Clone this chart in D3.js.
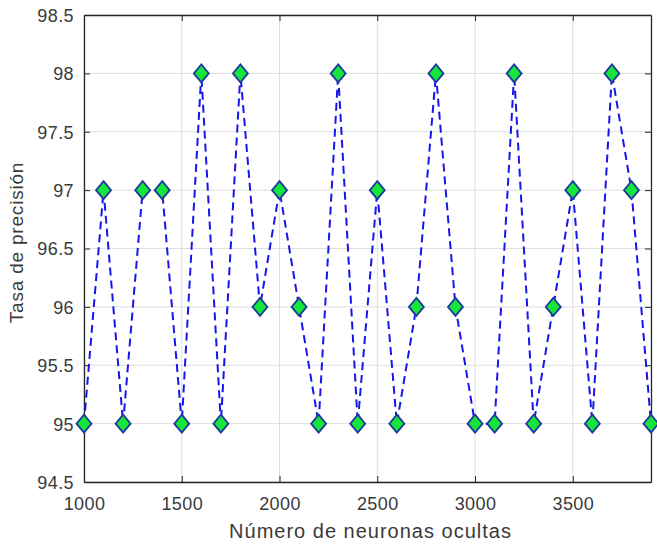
<!DOCTYPE html>
<html>
<head>
<meta charset="utf-8">
<script src="https://cdn.jsdelivr.net/npm/d3@7"></script>
<style>
  body { margin: 0; background: #fff; }
  svg { display: block; }
</style>
</head>
<body>
<div id="chart"></div>
<script>
// neuronas ocultas vs tasa de precision
var neurons = [1000, 1100, 1200, 1300, 1400, 1500, 1600, 1700, 1800, 1900,
               2000, 2100, 2200, 2300, 2400, 2500, 2600, 2700, 2800, 2900,
               3000, 3100, 3200, 3300, 3400, 3500, 3600, 3700, 3800, 3900];
var accuracy = [95, 97, 95, 97, 97, 95, 98, 95, 98, 96,
                97, 96, 95, 98, 95, 97, 95, 96, 98, 96,
                95, 95, 98, 95, 96, 97, 95, 98, 97, 95];
var xTicks = [1000, 1500, 2000, 2500, 3000, 3500];
var yTicks = [94.5, 95, 95.5, 96, 96.5, 97, 97.5, 98, 98.5];

var W = 657, H = 545;
var margin = {left: 84, top: 15, right: 6, bottom: 63};
var iw = W - margin.left - margin.right;
var ih = H - margin.top - margin.bottom;
var font = '"Liberation Sans", Arial, Helvetica, sans-serif';
var axisColor = '#262626';

var svg = d3.select('#chart').append('svg')
  .attr('width', W)
  .attr('height', H);

var x = d3.scaleLinear().domain([1000, 3900]).range([0, iw]);
var y = d3.scaleLinear().domain([94.5, 98.5]).range([ih, 0]);

var g = svg.append('g')
  .attr('transform', 'translate(' + margin.left + ',' + margin.top + ')');

// grid
g.append('g').selectAll('line')
  .data(xTicks)
  .enter().append('line')
  .attr('x1', d => x(d)).attr('x2', d => x(d))
  .attr('y1', 0).attr('y2', ih)
  .attr('stroke', '#dedede').attr('stroke-width', 1);

g.append('g').selectAll('line')
  .data(yTicks)
  .enter().append('line')
  .attr('x1', 0).attr('x2', iw)
  .attr('y1', d => y(d)).attr('y2', d => y(d))
  .attr('stroke', '#dedede').attr('stroke-width', 1);

// axes (ticks point inward, like matlab)
var xAxis = g.append('g')
  .attr('transform', 'translate(0,' + ih + ')')
  .call(d3.axisBottom(x).tickValues(xTicks).tickSizeInner(-6).tickSizeOuter(0).tickPadding(15)
    .tickFormat(d3.format('d')));
var yAxis = g.append('g')
  .call(d3.axisLeft(y).tickValues(yTicks).tickSizeInner(-6).tickSizeOuter(0).tickPadding(10)
    .tickFormat(d3.format('')));
var xTop = g.append('g')
  .call(d3.axisTop(x).tickValues(xTicks).tickSizeInner(-6).tickSizeOuter(0).tickFormat(''));
var yRight = g.append('g')
  .attr('transform', 'translate(' + iw + ',0)')
  .call(d3.axisRight(y).tickValues(yTicks).tickSizeInner(-6).tickSizeOuter(0).tickFormat(''));

[xAxis, yAxis, xTop, yRight].forEach(function(a){
  a.selectAll('path').attr('stroke', axisColor).attr('stroke-width', 1.3);
  a.selectAll('line').attr('stroke', axisColor).attr('stroke-width', 1);
  a.selectAll('text')
    .attr('fill', '#3a3a3a')
    .style('font-family', font)
    .style('font-size', '18px')
    .style('letter-spacing', '0.4px');
});
yAxis.selectAll('text').attr('dy', '0.36em');
xAxis.selectAll('text').attr('dy', '0.71em');

// dashed line
var line = d3.line()
  .x((d, i) => x(neurons[i]))
  .y(d => y(d));

g.append('path')
  .datum(accuracy)
  .attr('d', line)
  .attr('fill', 'none')
  .attr('stroke', '#1515ee')
  .attr('stroke-width', 2)
  .attr('stroke-dasharray', '8,5');

// diamond markers
var hw = 7.5, hh = 9;
g.append('g').selectAll('path')
  .data(accuracy)
  .enter().append('path')
  .attr('transform', (d, i) => 'translate(' + x(neurons[i]) + ',' + y(d) + ')')
  .attr('d', 'M0,' + (-hh) + 'L' + hw + ',0L0,' + hh + 'L' + (-hw) + ',0Z')
  .attr('fill', '#16e63a')
  .attr('stroke', '#1c3a9c')
  .attr('stroke-width', 1.8);

// labels
svg.append('text')
  .attr('x', margin.left + iw / 2 + 3)
  .attr('y', 538)
  .attr('text-anchor', 'middle')
  .attr('fill', '#3a3a3a')
  .style('font-family', font)
  .style('font-size', '20px')
  .style('letter-spacing', '1px')
  .text('Número de neuronas ocultas');

svg.append('text')
  .attr('transform', 'translate(23,' + (margin.top + ih / 2 - 6) + ') rotate(-90)')
  .attr('text-anchor', 'middle')
  .attr('fill', '#3a3a3a')
  .style('font-family', font)
  .style('font-size', '19px')
  .style('letter-spacing', '0.8px')
  .text('Tasa de precisión');
</script>
</body>
</html>
